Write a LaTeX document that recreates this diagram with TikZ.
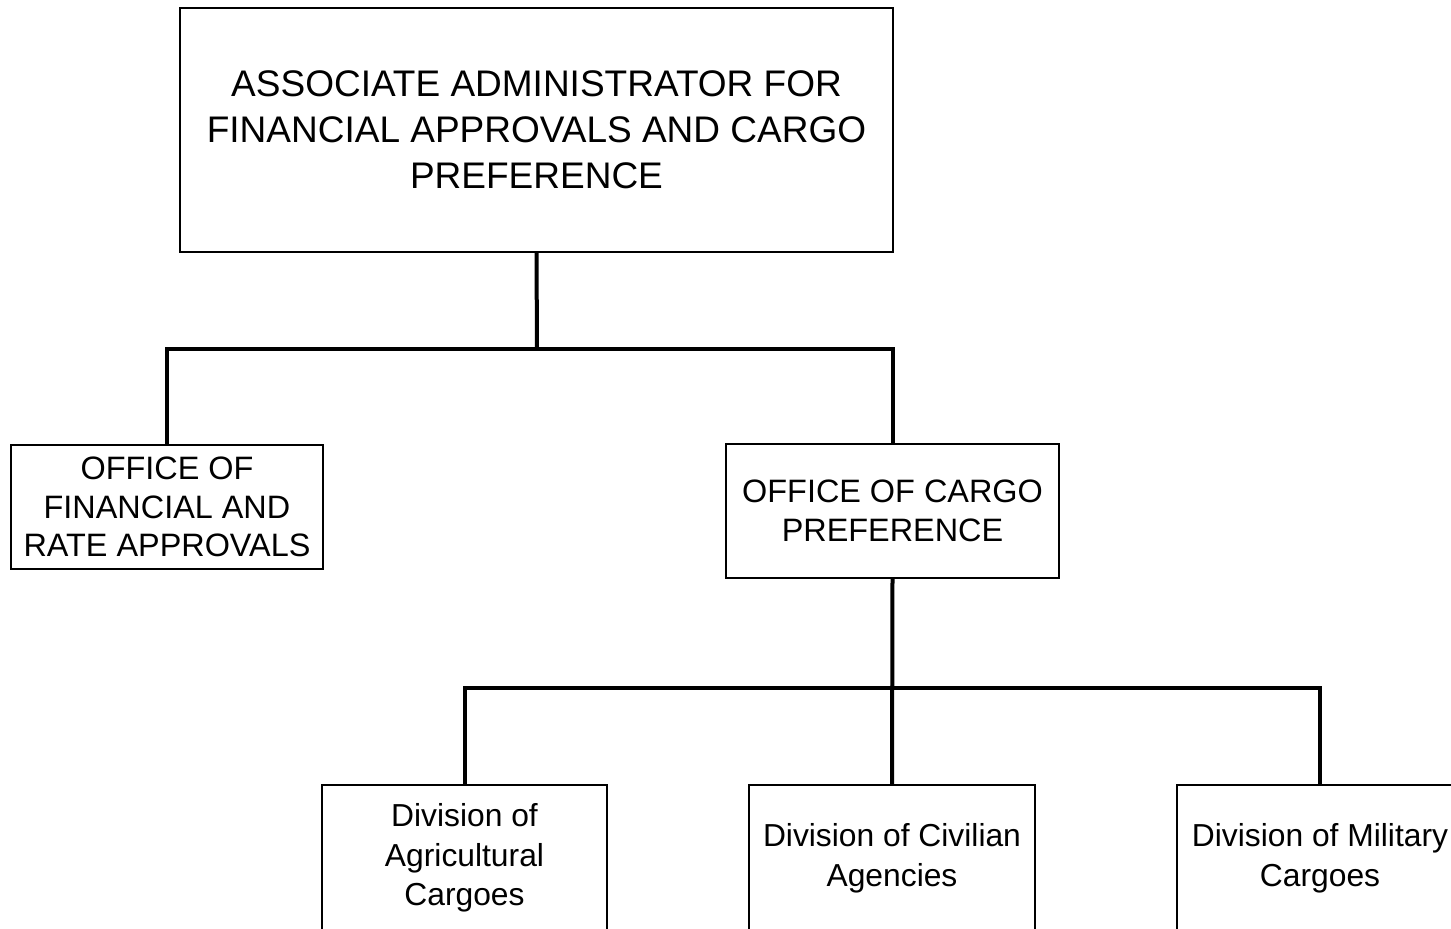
\documentclass[tikz,border=0pt]{standalone}
\usepackage{fontspec}
\setmainfont{Liberation Sans}
\usepackage{tikz}
\usetikzlibrary{positioning,calc}

\begin{document}
\begin{tikzpicture}[x=0.5pt, y=-0.5pt,
    orgbox/.style={rectangle, draw=black, line width=0.75pt, align=center, inner sep=0pt},
    topfont/.style={font=\fontsize{18.5}{23}\selectfont},
    officefont/.style={font=\fontsize{16.2}{19.4}\selectfont},
    divfont/.style={font=\fontsize{15.9}{19.8}\selectfont},
    link/.style={line width=2pt}
]
    \clip (0,0) rectangle (1451,929);
    \useasboundingbox (0,0) rectangle (1451,929);

    \node[orgbox, topfont, minimum width=356.5pt, minimum height=122pt] (admin) at (536.5,130)
        {ASSOCIATE ADMINISTRATOR FOR\\FINANCIAL APPROVALS AND CARGO\\PREFERENCE};

    \node[orgbox, officefont, minimum width=156pt, minimum height=62pt] (ofra) at (167,507)
        {OFFICE OF\\FINANCIAL AND\\RATE APPROVALS};
    \node[orgbox, officefont, minimum width=166.5pt, minimum height=67pt] (ocp) at (892.5,511)
        {OFFICE OF CARGO\\PREFERENCE};

    \node[orgbox, divfont, minimum width=142.5pt, minimum height=73pt] (dag) at (464.5,858)
        {Division of\\Agricultural\\Cargoes};
    \node[orgbox, divfont, minimum width=143pt, minimum height=73pt] (dca) at (892,858)
        {Division of Civilian\\Agencies};
    \node[orgbox, divfont, minimum width=143pt, minimum height=73pt] (dmc) at (1320,858)
        {Division of Military\\Cargoes};

    \coordinate (j1) at (537,349);
    \coordinate (j2) at (892,688);

    \draw[link] (admin.south) -- (j1);
    \draw[link] (ofra.north) |- (j1) -| (ocp.north);
    \draw[link] (ocp.south) -- (dca.north);
    \draw[link] (dag.north) |- (j2) -| (dmc.north);
\end{tikzpicture}
\end{document}
